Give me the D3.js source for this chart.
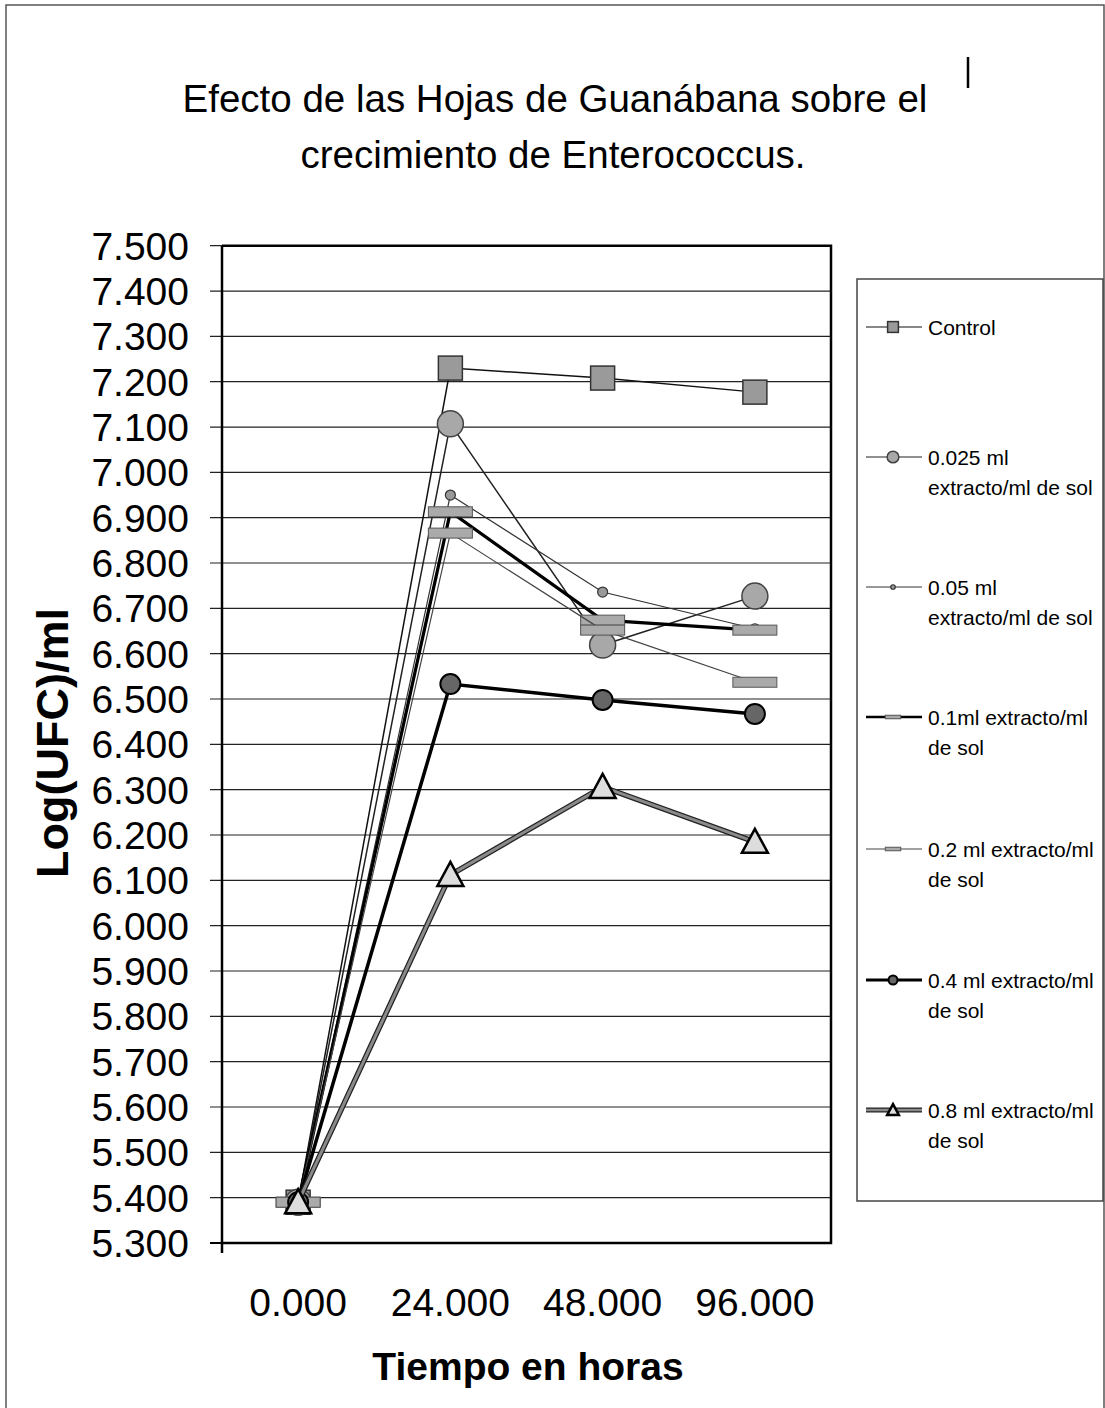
<!DOCTYPE html>
<html><head><meta charset="utf-8">
<script src="https://cdn.jsdelivr.net/npm/d3@7"></script>
<style>body{margin:0;background:#fff}svg{display:block;font-family:"Liberation Sans",Arial,sans-serif}</style>
</head><body><svg id="c" width="1105" height="1408"></svg>
<script>
const categories = ["0.000", "24.000", "48.000", "96.000"];
const yTicks = [5.3,5.4,5.5,5.6,5.7,5.8,5.9,6.0,6.1,6.2,6.3,6.4,6.5,6.6,6.7,6.8,6.9,7.0,7.1,7.2,7.3,7.4,7.5];
const seriesNames = ["Control", "0.025 ml extracto/ml de sol", "0.05 ml extracto/ml de sol", "0.1ml extracto/ml de sol", "0.2 ml extracto/ml de sol", "0.4 ml extracto/ml de sol", "0.8 ml extracto/ml de sol"];
const legendLines = [["Control"], ["0.025 ml", "extracto/ml de sol"], ["0.05 ml", "extracto/ml de sol"], ["0.1ml extracto/ml", "de sol"], ["0.2 ml extracto/ml", "de sol"], ["0.4 ml extracto/ml", "de sol"], ["0.8 ml extracto/ml", "de sol"]];
const control  = [5.39, 7.230, 7.208, 7.177];
const ext0025  = [5.39, 7.107, 6.619, 6.727];
const ext005   = [5.39, 6.950, 6.736, 6.655];
const ext01    = [5.39, 6.913, 6.674, 6.652];
const ext02    = [5.39, 6.866, 6.652, 6.537];
const ext04    = [5.39, 6.533, 6.498, 6.467];
const ext08    = [5.39, 6.112, 6.306, 6.185];
const seriesValues = [control, ext0025, ext005, ext01, ext02, ext04, ext08];

const styles = [
  {stroke:"#111", w:1.5, marker:"square"},
  {stroke:"#222", w:1.5, marker:"bigcircle"},
  {stroke:"#333", w:1.2, marker:"smallcircle"},
  {stroke:"#000", w:3.2, marker:"dash"},
  {stroke:"#444", w:1.2, marker:"dash"},
  {stroke:"#000", w:3.5, marker:"darkcircle"},
  {stroke:"#8a8a8a", w:3, marker:"triangle", outline:true}
];

const svg = d3.select("#c");
// outer frame
svg.append("rect").attr("x",6).attr("y",5).attr("width",1098).attr("height",1420)
  .attr("fill","none").attr("stroke","#555").attr("stroke-width",1.5);

// title
svg.append("text").attr("x",555).attr("y",112).attr("text-anchor","middle").attr("font-size",38.5).attr("fill","#000")
  .text("Efecto de las Hojas de Guanábana sobre el");
svg.append("text").attr("x",553).attr("y",168).attr("text-anchor","middle").attr("font-size",38.5).attr("fill","#000")
  .text("crecimiento de Enterococcus.");
svg.append("line").attr("x1",968).attr("x2",968).attr("y1",57).attr("y2",88).attr("stroke","#000").attr("stroke-width",2.5);

const pL=222, pR=831, pT=245.7, pB=1243;
const x = d3.scalePoint().domain(categories).range([pL,pR]).padding(0.5);
const y = d3.scaleLinear().domain([5.3,7.5]).range([pB,pT]);

// gridlines
svg.append("g").selectAll("line").data(yTicks).join("line")
  .attr("x1",210).attr("x2",pR).attr("y1",d=>y(d)).attr("y2",d=>y(d))
  .attr("stroke","#222").attr("stroke-width",1.2);

// y axis labels
svg.append("g").selectAll("text").data(yTicks).join("text")
  .attr("x",189).attr("y",d=>y(d)+14).attr("text-anchor","end").attr("font-size",39).attr("fill","#000")
  .text(d=>d.toFixed(3));

// plot border
svg.append("path").attr("d",`M${pL},${pT}H${pR}V${pB}H${pL}`).attr("fill","none").attr("stroke","#000").attr("stroke-width",2.5);
svg.append("line").attr("x1",pL).attr("x2",pL).attr("y1",pT).attr("y2",pB+10).attr("stroke","#000").attr("stroke-width",2.5);
svg.append("line").attr("x1",210).attr("x2",pL).attr("y1",pB).attr("y2",pB).attr("stroke","#000").attr("stroke-width",2);

// x labels
svg.append("g").selectAll("text").data(categories).join("text")
  .attr("x",d=>x(d)).attr("y",1316).attr("text-anchor","middle").attr("font-size",39).attr("fill","#000")
  .text(d=>d);

// axis titles
svg.append("text").attr("x",528).attr("y",1380).attr("text-anchor","middle").attr("font-size",39).attr("font-weight","bold").text("Tiempo en horas");
svg.append("text").attr("transform","translate(68,743) rotate(-90)").attr("text-anchor","middle").attr("font-size",45).attr("font-weight","bold").text("Log(UFC)/ml");

function drawMarker(g, m, cx, cy, scale){
  scale = scale||1;
  if(m==="square"){
    g.append("rect").attr("x",cx-12*scale).attr("y",cy-12*scale).attr("width",24*scale).attr("height",24*scale)
      .attr("fill","#9a9a9a").attr("stroke","#333").attr("stroke-width",1.5);
  } else if(m==="bigcircle"){
    g.append("circle").attr("cx",cx).attr("cy",cy).attr("r",13*scale).attr("fill","#a8a8a8").attr("stroke","#444").attr("stroke-width",1.5);
  } else if(m==="smallcircle"){
    g.append("circle").attr("cx",cx).attr("cy",cy).attr("r",5*scale).attr("fill","#999").attr("stroke","#333").attr("stroke-width",1.2);
  } else if(m==="darkcircle"){
    g.append("circle").attr("cx",cx).attr("cy",cy).attr("r",10*scale).attr("fill","#666").attr("stroke","#000").attr("stroke-width",2);
  } else if(m==="dash"){
    g.append("rect").attr("x",cx-22*scale).attr("y",cy-5*scale).attr("width",44*scale).attr("height",10*scale)
      .attr("fill","#aaa").attr("stroke","#555").attr("stroke-width",1);
  } else if(m==="triangle"){
    const s=13*scale;
    g.append("path").attr("d",`M${cx},${cy-s}L${cx+s},${cy+s*0.85}L${cx-s},${cy+s*0.85}Z`)
      .attr("fill","#ddd").attr("stroke","#000").attr("stroke-width",2.5);
  }
}

const line = d3.line().x((d,i)=>x(categories[i])).y(d=>y(d));
seriesValues.forEach((vals,si)=>{
  const st = styles[si];
  const g = svg.append("g");
  if(st.outline){
    g.append("path").attr("d",line(vals)).attr("fill","none").attr("stroke","#222").attr("stroke-width",st.w+2.5);
  }
  g.append("path").attr("d",line(vals)).attr("fill","none").attr("stroke",st.stroke).attr("stroke-width",st.w);
  vals.forEach((v,i)=>drawMarker(g, st.marker, x(categories[i]), y(v)));
});

// legend
const lg = svg.append("g");
lg.append("rect").attr("x",857).attr("y",279).attr("width",246).attr("height",922).attr("fill","#fff").attr("stroke","#444").attr("stroke-width",1.5);
const legendY = [327, 457, 587, 717, 849, 980, 1110];
legendLines.forEach((lines,si)=>{
  const st = styles[si];
  const cy = legendY[si];
  if(st.outline){
    lg.append("line").attr("x1",866).attr("x2",922).attr("y1",cy).attr("y2",cy).attr("stroke","#222").attr("stroke-width",st.w+2);
  }
  lg.append("line").attr("x1",866).attr("x2",922).attr("y1",cy).attr("y2",cy).attr("stroke",st.stroke).attr("stroke-width",Math.max(1,st.w*0.8));
  drawMarker(lg, st.marker, 893, cy, st.marker==="dash"?0.35:0.45);
  lines.forEach((t,k)=>{
    lg.append("text").attr("x",928).attr("y",cy+8+k*30).attr("font-size",21).attr("fill","#000").text(t);
  });
});
</script></body></html>
